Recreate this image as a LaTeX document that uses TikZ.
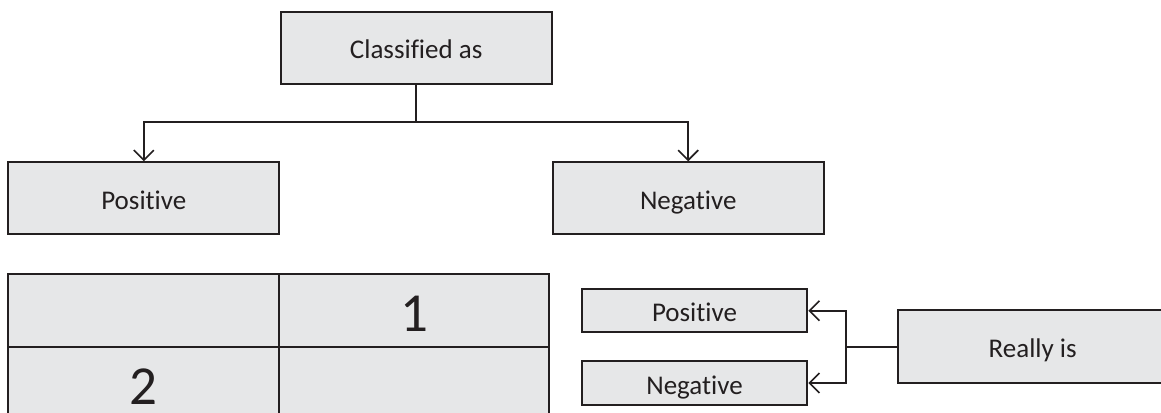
\documentclass[tikz,border=0pt]{standalone}
\usepackage{fontspec}
\setmainfont[Ligatures=NoCommon]{Carlito}
\usetikzlibrary{arrows.meta}
\definecolor{boxfill}{HTML}{E6E7E8}
\definecolor{ink}{HTML}{231F20}
\tikzset{
  box/.style={draw=ink, fill=boxfill, line width=2pt, inner sep=0pt, text=ink,
    font=\fontsize{27}{32}\selectfont, text height=22pt, text depth=0pt, anchor=center},
  digit/.style={font=\fontsize{55}{64}\selectfont, text height=41pt},
  conn/.style={draw=ink, line width=1.6pt},
  arr/.style={conn, -{Straight Barb[length=10pt,width=20pt,line width=1.6pt]}}
}
\begin{document}
\begin{tikzpicture}[x=1pt,y=-1pt]
\clip (0,0) rectangle (1161,412);
\fill[white] (0,0) rectangle (1161,412);
% top tree
\node[box, minimum width=271, minimum height=72] (cls) at (416.2,48) {Classified as};
\node[box, minimum width=271, minimum height=72] (pos) at (143.8,198.3) {Positive};
\node[box, minimum width=271, minimum height=72] (neg) at (688.2,198.3) {Negative};
\coordinate (j1) at (416.2,122);
\draw[conn] (cls.south) -- (j1);
\draw[arr] (j1) -| (pos.north);
\draw[arr] (j1) -| (neg.north);
% table
\node[box, minimum width=270.7, minimum height=73] (c11) at (143.65,310.5) {};
\node[box, digit, minimum width=270.3, minimum height=73] (c12) at (414.15,310.5) {1};
\node[box, digit, minimum width=270.7, minimum height=73] (c21) at (143.65,383.5) {2};
\node[box, minimum width=270.3, minimum height=73] (c22) at (414.15,383.5) {};
% right bracket
\node[box, minimum width=225.6, minimum height=43.3] (rpos) at (694.5,310.7) {Positive};
\node[box, minimum width=225.6, minimum height=44] (rneg) at (694.5,383) {Negative};
\node[box, minimum width=290, minimum height=73.3] (real) at (1042.7,346.7) {\hspace*{-20pt}Really is};
\coordinate (j2) at (845.7,346.7);
\draw[conn] (real.west) -- (j2);
\draw[arr] (j2) |- (rpos.east);
\draw[arr] (j2) |- (rneg.east);
\end{tikzpicture}
\end{document}
